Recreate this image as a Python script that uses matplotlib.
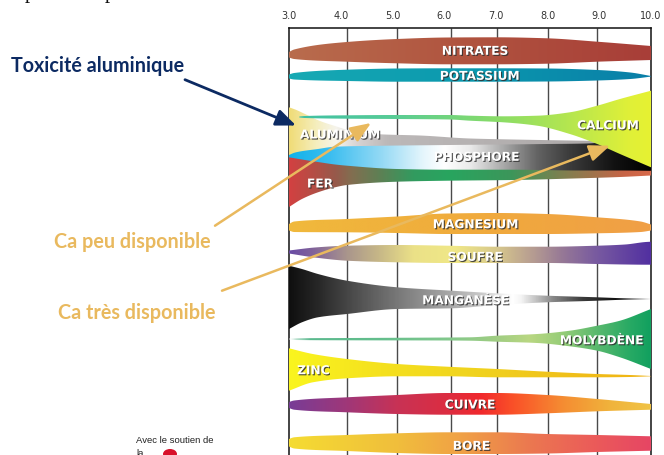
import numpy as np
import matplotlib
matplotlib.use("Agg")
import matplotlib.pyplot as plt
import matplotlib.patheffects as pe
from matplotlib.patches import Polygon, Ellipse
from matplotlib.colors import LinearSegmentedColormap

# ---------------- data ----------------
ph_ticks = [3.0, 4.0, 5.0, 6.0, 7.0, 8.0, 9.0, 10.0]
tick_labels = ["3.0", "4.0", "5.0", "6.0", "7.0", "8.0", "9.0", "10.0"]
grid_ph = [3.0, 4.13, 5.08, 6.13, 7.02, 8.0, 8.95, 10.0]

common = [3.0, 3.1, 4.12, 5.09, 6.06, 7.02, 7.99, 8.96, 10.0]

nitrates_ph = common
nitrates_top = [53.0, 50.5, 43.0, 40.0, 38.5, 38.3, 39.3, 42.7, 47.0]
nitrates_bot = [58.5, 60.0, 62.7, 64.3, 65.3, 65.3, 64.7, 62.7, 61.0]

potassium_ph = [3.0, 3.1, 4.12, 5.09, 6.06, 7.02, 7.99, 8.96, 9.6, 10.0]
potassium_top = [75.5, 74.0, 70.7, 69.5, 69.3, 69.3, 69.5, 71.0, 73.5, 77.0]
potassium_bot = [79.5, 80.5, 82.0, 82.7, 82.7, 82.7, 82.5, 81.5, 80.0, 77.6]

aluminium_ph = [3.0, 3.12, 3.31, 3.6, 3.89, 4.18, 4.76, 5.53, 6.5, 7.33, 8.43, 9.0, 9.8]
aluminium_top = [108.3, 110.5, 115.0, 122.0, 127.0, 131.5, 135.3, 136.5, 139.5, 140.5, 141.5, 142.0, 143.0]
aluminium_bot = [160.0, 158.0, 156.0, 153.0, 151.0, 150.0, 150.0, 150.0, 150.0, 150.0, 150.0, 150.0, 150.0]

phosphore_ph = [3.0, 3.12, 3.56, 3.89, 4.86, 6.11, 7.08, 8.0, 8.76, 9.4, 10.0]
phosphore_top = [156.0, 153.5, 150.0, 147.7, 146.7, 146.0, 145.5, 145.0, 144.5, 140.0, 130.0]
phosphore_bot = [159.0, 162.0, 166.0, 169.0, 172.0, 172.5, 172.5, 173.0, 173.5, 173.5, 172.0]

fer_ph = [3.0, 3.25, 3.56, 3.89, 4.12, 5.09, 6.06, 7.33, 8.63, 9.4, 10.0]
fer_top = [158.3, 160.5, 163.0, 165.5, 166.7, 170.0, 170.7, 170.7, 171.5, 171.5, 171.8]
fer_bot = [208.0, 200.0, 193.3, 188.3, 186.0, 182.7, 181.7, 181.0, 179.3, 178.0, 176.5]

calcium_ph = [3.2, 3.31, 4.12, 5.09, 6.11, 6.5, 7.14, 7.8, 8.43, 8.96, 9.4, 10.0]
calcium_top = [117.5, 117.0, 116.3, 116.0, 116.0, 116.7, 117.3, 116.7, 113.3, 106.7, 100.0, 91.7]
calcium_bot = [118.5, 119.0, 119.7, 120.0, 120.5, 121.7, 123.3, 126.7, 135.0, 145.0, 155.0, 168.3]

magnesium_ph = [3.0, 3.1, 4.12, 5.09, 6.06, 7.02, 7.99, 8.96, 9.8, 10.0]
magnesium_top = [225.0, 222.5, 220.0, 217.5, 214.5, 214.0, 215.0, 218.3, 222.5, 225.5]
magnesium_bot = [231.5, 233.0, 233.3, 234.0, 235.0, 235.0, 235.0, 234.3, 233.0, 231.5]

soufre_ph = [3.0, 3.5, 4.12, 5.09, 6.06, 7.02, 7.99, 8.96, 9.5, 9.9, 10.0]
soufre_top = [251.5, 248.5, 246.7, 246.0, 246.7, 247.7, 247.7, 246.7, 245.5, 243.0, 242.7]
soufre_bot = [254.5, 258.5, 261.7, 263.3, 264.0, 264.0, 264.0, 265.0, 265.5, 265.7, 265.7]

manganese_ph = [3.0, 3.25, 3.56, 4.12, 5.09, 6.15, 7.02, 7.99, 8.96, 9.59, 10.0]
manganese_top = [266.7, 270.0, 275.0, 281.7, 288.3, 291.7, 294.3, 296.7, 298.3, 299.5, 300.0]
manganese_bot = [330.0, 323.3, 318.3, 315.0, 310.0, 309.3, 306.0, 303.3, 301.7, 300.5, 300.0]

molybdene_ph = [3.0, 3.14, 4.18, 6.06, 6.5, 7.02, 7.8, 8.43, 8.96, 9.4, 10.0]
molybdene_top = [339.7, 339.3, 339.0, 338.5, 338.3, 336.7, 335.0, 331.7, 326.7, 321.7, 310.0]
molybdene_bot = [340.3, 341.0, 341.3, 341.5, 341.7, 342.7, 344.0, 347.3, 351.7, 358.3, 370.0]

zinc_ph = [3.0, 3.46, 4.12, 5.09, 6.06, 7.02, 7.99, 8.96, 9.59, 10.0]
zinc_top = [349.3, 355.0, 360.0, 365.0, 367.7, 370.0, 372.7, 375.0, 376.0, 377.0]
zinc_bot = [391.7, 383.3, 379.3, 377.3, 377.3, 378.3, 378.3, 378.3, 378.0, 377.3]

cuivre_ph = common
cuivre_top = [403.0, 401.5, 398.3, 396.0, 394.0, 394.0, 396.0, 400.0, 405.0]
cuivre_bot = [409.0, 410.7, 413.3, 415.0, 415.7, 415.7, 414.3, 412.3, 410.7]

bore_ph = common
bore_top = [440.0, 438.3, 436.0, 434.3, 433.3, 433.3, 435.0, 436.0, 437.3]
bore_bot = [447.5, 449.5, 452.0, 454.0, 455.0, 455.0, 454.5, 453.0, 451.7]

# colour gradients (pH, colour)
nitrates_col = [(3, '#b96c4d'), (6.5, '#b0533f'), (10, '#a83e38')]
potassium_col = [(3, '#17aab4'), (6.5, '#0b98ae'), (10, '#0a7fa8')]
calcium_col = [(3, '#3cbfa5'), (5, '#58cc96'), (7, '#88dc68'), (8.4, '#b4e650'), (9.6, '#e0f038'), (10, '#e6f232')]
aluminium_col = [(3, '#f0dc78'), (3.5, '#f5eebc'), (3.9, '#f6f4ec'), (4.3, '#d8d4d4'), (4.9, '#bcb8b8'), (10, '#a9a5a5')]
phosphore_col = [(3, '#12b2ea'), (3.8, '#3cbef0'), (4.8, '#96daf5'), (5.6, '#e6f6fc'), (6.0, '#ffffff'),
                 (6.5, '#ebebeb'), (7.14, '#aaaaaa'), (7.8, '#646464'), (8.43, '#3c3c3c'), (9.3, '#121212'), (10, '#000000')]
fer_col = [(3, '#d24141'), (3.55, '#af5046'), (3.9, '#965a4b'), (4.2, '#826e50'), (4.8, '#5a8255'), (5.4, '#329b5f'),
           (6.1, '#28a55f'), (7.3, '#3c965a'), (8.2, '#788250'), (8.9, '#a0734b'), (9.5, '#c86446'), (10, '#d76a4b')]
magnesium_col = [(3, '#f0b93c'), (6.5, '#f0ab3c'), (10, '#f09f46')]
soufre_col = [(3, '#694ba5'), (3.46, '#82649a'), (4.12, '#aa968c'), (4.76, '#c8b987'), (5.4, '#ebe187'), (6.2, '#f0e887'),
              (7.02, '#d7c88c'), (7.66, '#b9a091'), (8.3, '#967896'), (8.96, '#785aa0'), (10, '#5230a0')]
manganese_col = [(3, '#0f0f0f'), (3.56, '#282828'), (4.12, '#464646'), (5.09, '#787878'), (6.15, '#aaaaaa'), (6.69, '#c8c8c8'),
                 (7.33, '#ffffff'), (7.5, '#f4f4f4'), (8.1, '#8a8a8a'), (8.7, '#3a3a3a'), (9.3, '#141414'), (10, '#0a0a0a')]
molybdene_col = [(3, '#ffffff'), (3.15, '#b0dcc8'), (3.4, '#5ab98e'), (4.76, '#64be8c'), (6.06, '#82c88c'), (7.02, '#a0cd82'),
                 (7.66, '#b9d782'), (8.3, '#96cd78'), (8.96, '#5ab96e'), (9.6, '#28aa64'), (10, '#12a05f')]
zinc_col = [(3, '#faf51e'), (4.76, '#f5e11e'), (6.7, '#f0d21e'), (8.6, '#f0be19'), (10, '#f0b414')]
cuivre_col = [(3, '#783c96'), (4.12, '#a03778'), (5.09, '#c83255'), (6.06, '#dc2d41'), (6.7, '#f0282d'), (7.33, '#fa5028'),
              (8.3, '#f58c32'), (9.25, '#f0b43c'), (10, '#f0c346')]
bore_col = [(3, '#f5dc32'), (5.09, '#f0be3c'), (6.37, '#f0a046'), (7.66, '#eb7850'), (8.96, '#eb5a5a'), (10, '#e64664')]

# ---------------- layout ----------------
W, H = 664, 456
fig = plt.figure(figsize=(W / 100, H / 100), dpi=100)
ax = fig.add_axes([289 / W, 0, 362 / W, (H - 29) / H])
ax.set_facecolor('white')


def pchip(xk, yk, x):
    xk = np.asarray(xk, float)
    yk = np.asarray(yk, float)
    h = np.diff(xk)
    d = np.diff(yk) / h
    n = len(xk)
    m = np.zeros(n)
    for k in range(1, n - 1):
        if d[k - 1] * d[k] > 0:
            w1 = 2 * h[k] + h[k - 1]
            w2 = h[k] + 2 * h[k - 1]
            m[k] = (w1 + w2) / (w1 / d[k - 1] + w2 / d[k])
    m[0] = d[0]
    m[-1] = d[-1]
    idx = np.clip(np.searchsorted(xk, x, side='right') - 1, 0, n - 2)
    t = (x - xk[idx]) / h[idx]
    h00 = 2 * t ** 3 - 3 * t ** 2 + 1
    h10 = t ** 3 - 2 * t ** 2 + t
    h01 = -2 * t ** 3 + 3 * t ** 2
    h11 = t ** 3 - t ** 2
    return h00 * yk[idx] + h10 * h[idx] * m[idx] + h01 * yk[idx + 1] + h11 * h[idx] * m[idx + 1]


def draw_band(knots, top, bot, stops, z):
    xs = np.linspace(knots[0], knots[-1], 300)
    t = pchip(knots, top, xs)
    b = pchip(knots, bot, xs)
    verts = np.concatenate([np.column_stack([xs, t]), np.column_stack([xs[::-1], b[::-1]])])
    poly = Polygon(verts, closed=True, facecolor='none', edgecolor='none', transform=ax.transData)
    ax.add_patch(poly)
    cmap = LinearSegmentedColormap.from_list('g', [((p - 3) / 7, c) for p, c in stops])
    grad = np.linspace(0, 1, 700).reshape(1, -1)
    im = ax.imshow(grad, cmap=cmap, vmin=0, vmax=1, extent=(3, 10, b.max() + 1, t.min() - 1),
                   aspect='auto', interpolation='bilinear', zorder=z)
    im.set_clip_path(poly)


bands = [
    (nitrates_ph, nitrates_top, nitrates_bot, nitrates_col, 3),
    (potassium_ph, potassium_top, potassium_bot, potassium_col, 3),
    (aluminium_ph, aluminium_top, aluminium_bot, aluminium_col, 3),
    (phosphore_ph, phosphore_top, phosphore_bot, phosphore_col, 4),
    (fer_ph, fer_top, fer_bot, fer_col, 5),
    (calcium_ph, calcium_top, calcium_bot, calcium_col, 6),
    (magnesium_ph, magnesium_top, magnesium_bot, magnesium_col, 3),
    (soufre_ph, soufre_top, soufre_bot, soufre_col, 3),
    (manganese_ph, manganese_top, manganese_bot, manganese_col, 3),
    (molybdene_ph, molybdene_top, molybdene_bot, molybdene_col, 3),
    (zinc_ph, zinc_top, zinc_bot, zinc_col, 3),
    (cuivre_ph, cuivre_top, cuivre_bot, cuivre_col, 3),
    (bore_ph, bore_top, bore_bot, bore_col, 3),
]
for kn, tp, bt, col, z in bands:
    draw_band(kn, tp, bt, col, z)

# grid & frame
ax.vlines(grid_ph[1:-1], 29, 456, color='#4a4a4a', lw=1.0, zorder=1)
for s in ['left', 'right', 'top']:
    ax.spines[s].set_color('#111111')
    ax.spines[s].set_linewidth(1.1)
    ax.spines[s].set_zorder(1.2)
ax.spines['bottom'].set_visible(False)
ax.set_xlim(3, 10)
ax.set_ylim(456, 29)
ax.set_yticks([])
ax.set_xticks(ph_ticks)
ax.set_xticklabels(tick_labels)
ax.xaxis.tick_top()
ax.tick_params(axis='x', length=0, pad=6, labelsize=7, labelcolor='#333333')

# band labels
labels = {
    "NITRATES": (6.6, 52.3), "POTASSIUM": (6.69, 77.3), "ALUMINIUM": (3.99, 136.0),
    "CALCIUM": (9.17, 126.7), "PHOSPHORE": (6.63, 158.3), "FER": (3.6, 185.0),
    "MAGNESIUM": (6.61, 225.7), "SOUFRE": (6.6, 258.3), "MANGANÈSE": (6.42, 301.7),
    "MOLYBDÈNE": (9.05, 341.7), "ZINC": (3.47, 371.7), "CUIVRE": (6.5, 406.0), "BORE": (6.53, 447.3),
}
shadow = [pe.SimplePatchShadow(offset=(0.8, -0.8), shadow_rgbFace='#303030', alpha=0.85), pe.Normal()]
for name, (x, y) in labels.items():
    ax.text(x, y, name, ha='center', va='center', fontsize=8.8, fontweight='bold', color='white',
            family='DejaVu Sans', path_effects=shadow, zorder=20)

# annotations
navy = '#0c2a62'
gold = '#e9b95e'
fig.text(98 / W, 1 - 66 / H, "Toxicité aluminique", ha='center', va='center', fontsize=14.2,
         fontweight='bold', family='Lato', color=navy)
fig.text(132.5 / W, 1 - 242.3 / H, "Ca peu disponible", ha='center', va='center', fontsize=14.2,
         fontweight='bold', family='Lato', color=gold)
fig.text(136.5 / W, 1 - 313.3 / H, "Ca très disponible", ha='center', va='center', fontsize=14.2,
         fontweight='bold', family='Lato', color=gold)

ax.annotate('', xy=(3.135, 126.5), xycoords='data', xytext=(185 / W, 1 - 80.7 / H), textcoords='figure fraction',
            arrowprops=dict(arrowstyle='-|>,head_length=1.2,head_width=0.5', color=navy, lw=2.0,
                            shrinkA=0, shrinkB=0, mutation_scale=10), annotation_clip=False, zorder=30)
ax.annotate('', xy=(4.586, 124.0), xycoords='data', xytext=(215 / W, 1 - 226.7 / H), textcoords='figure fraction',
            arrowprops=dict(arrowstyle='-|>,head_length=1.25,head_width=0.5', color=gold, lw=1.8,
                            shrinkA=0, shrinkB=0, mutation_scale=10), annotation_clip=False, zorder=30)
ax.annotate('', xy=(9.207, 146.7), xycoords='data', xytext=(222 / W, 1 - 291.7 / H), textcoords='figure fraction',
            arrowprops=dict(arrowstyle='-|>,head_length=1.25,head_width=0.5', color=gold, lw=1.8,
                            shrinkA=0, shrinkB=0, mutation_scale=10), annotation_clip=False, zorder=30)

# text fragments cropped at the edges of the picture (as in the reference)
fig.text(30 / W, 1 + 1.5 / H, "p", family='Liberation Serif', fontsize=15, ha='center', va='baseline', color='#111111')
fig.text(110 / W, 1 + 1.5 / H, "p", family='Liberation Serif', fontsize=15, ha='center', va='baseline', color='#111111')
fig.text(136 / W, 1 - 440.7 / H, "Avec le soutien de", family='Liberation Sans', fontsize=6.8, ha='left',
         va='center', color='#222222')
fig.text(136 / W, 1 - 453.5 / H, "la", family='Liberation Sans', fontsize=6.8, ha='left', va='center', color='#222222')
fig.patches.append(Ellipse((170 / W, 1 - 455 / H), 14 / W, 10 / H, transform=fig.transFigure,
                           facecolor='#d8102a', edgecolor='none'))

fig.savefig("out.png", dpi=100)
